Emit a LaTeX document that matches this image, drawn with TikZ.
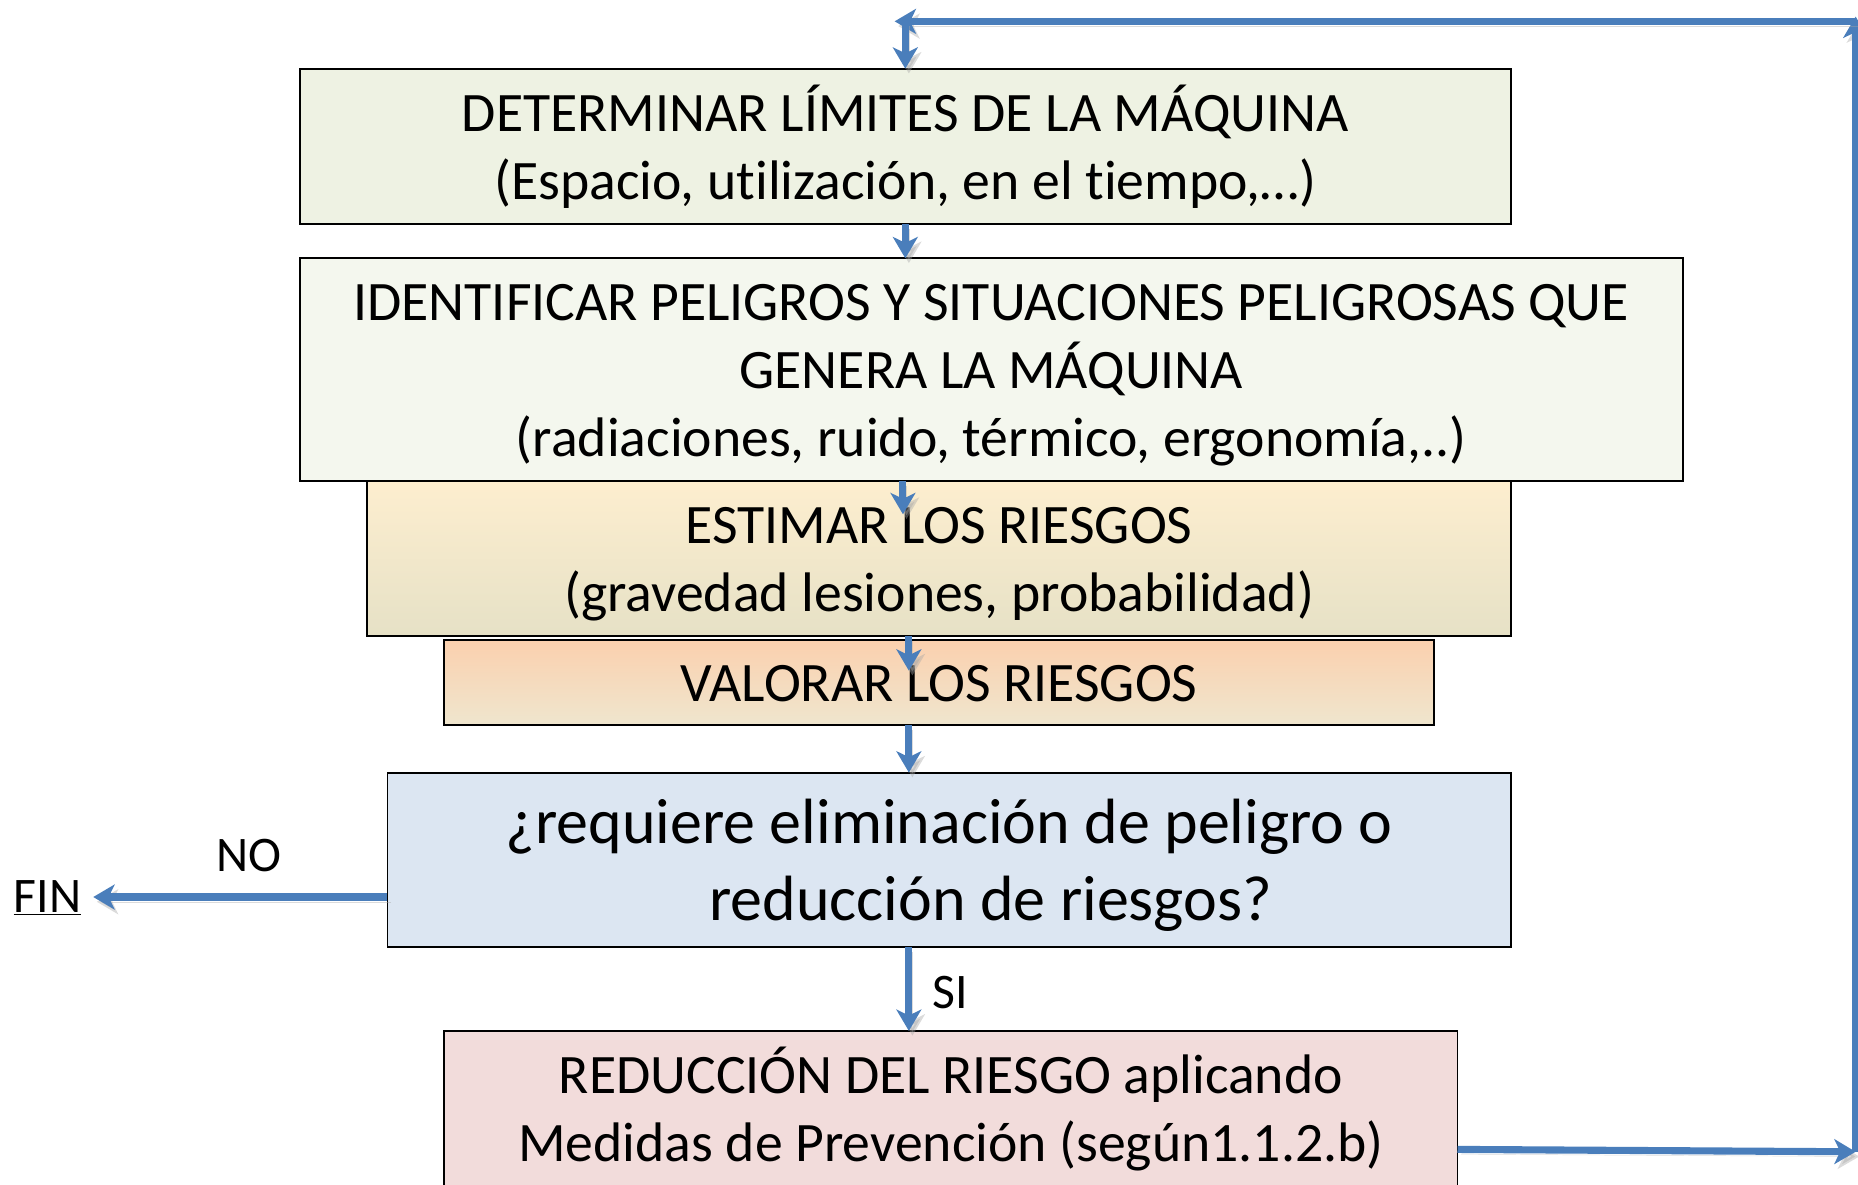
\documentclass[tikz,border=0pt]{standalone}
\usepackage{fontspec}
\setmainfont{Carlito}[Ligatures=NoCommon]
\usetikzlibrary{arrows.meta,calc}
\definecolor{arrowblue}{HTML}{4A7EBB}
\definecolor{fillA}{HTML}{EEF2E3}
\definecolor{fillB}{HTML}{F4F7EE}
\definecolor{fillCt}{HTML}{FDEECF}
\definecolor{fillCm}{HTML}{F8EBD0}
\definecolor{fillCb}{HTML}{E6E1C6}
\definecolor{fillDt}{HTML}{FBD0AE}
\definecolor{fillDm}{HTML}{F6DCC2}
\definecolor{fillDb}{HTML}{EFE6CE}
\definecolor{fillE}{HTML}{DCE6F2}
\definecolor{fillF}{HTML}{F2DCDB}
\newcommand{\topstrut}{\rule{0pt}{46pt}}
\newcommand{\botstrut}{\rule[-14pt]{0pt}{14pt}}
\newcommand{\bigtopstrut}{\rule{0pt}{53.5pt}}
\newcommand{\bigbotstrut}{\rule[-15.5pt]{0pt}{15.5pt}}
\begin{document}
\begin{tikzpicture}[x=1pt,y=-1pt,
  box/.style={draw=black, line width=1.6pt, rectangle, inner sep=0pt, outer sep=0pt, align=center, font=\fontsize{47}{57.5}\selectfont},
  flow/.style={draw=arrowblue, line width=6pt, -{Stealth[length=18pt,width=21pt,inset=5pt]},
    preaction={draw=black!35, opacity=.4, transform canvas={shift={(3pt,-4pt)}}}},
  lbl/.style={font=\fontsize{42}{50}\selectfont, inner sep=0pt}]
\clip (0,0) rectangle (1568,999.2);
% boxes
\node[box, fill=fillA, minimum width=1022pt, minimum height=131pt] (b1) at (764,123.5)
  {\topstrut DETERMINAR LÍMITES DE LA MÁQUINA\\(Espacio, utilización, en el tiempo,…)\botstrut};
\node[box, fill=fillB, minimum width=1167pt, minimum height=188pt] (b2) at (836.5,312)
  {\topstrut IDENTIFICAR PELIGROS Y SITUACIONES PELIGROSAS QUE\\GENERA LA MÁQUINA\\(radiaciones, ruido, térmico, ergonomía,..)\botstrut};
\node[box, top color=fillCt, middle color=fillCm, bottom color=fillCb, minimum width=965pt, minimum height=131pt] (b3) at (792.5,471.5)
  {\topstrut ESTIMAR LOS RIESGOS\\(gravedad lesiones, probabilidad)\botstrut};
\node[box, top color=fillDt, middle color=fillDm, bottom color=fillDb, minimum width=835pt, minimum height=72pt] (b4) at (792.5,576)
  {\topstrut VALORAR LOS RIESGOS\botstrut};
\node[box, fill=fillE, minimum width=948pt, minimum height=147pt, font=\fontsize{54}{65}\selectfont] (b5) at (801,725.5)
  {\bigtopstrut ¿requiere eliminación de peligro o\\\hspace*{70pt}reducción de riesgos?\bigbotstrut};
\node[box, fill=fillF, minimum width=855pt, minimum height=131pt] (b6) at (802.5,935.5)
  {\topstrut REDUCCIÓN DEL RIESGO aplicando\\Medidas de Prevención (según1.1.2.b)\botstrut};
% labels
\node[lbl] (fin) at (40,758) {\underline{FIN}};
\node[lbl] (no) at (210,722) {NO};
% helper coordinates
\coordinate (x23) at (762,434);
\coordinate (x34) at (767,566);
\coordinate (rb) at (1566,972);
\coordinate (rt) at (1566,14);
\coordinate (lt) at (755,18);
\coordinate (lv) at (764,18);
\coordinate (noy) at (0,757);
\coordinate (fintip) at ($(fin.east)+(10,0)$);
% connectors
\draw[flow] (b1.south) -- (b1.south |- b2.north);
\draw[flow] (x23 |- b2.south) -- (x23);
\draw[flow] (x34 |- b3.south) -- (x34);
\draw[flow] (x34 |- b4.south) -- (x34 |- b5.north);
\draw[flow] (x34 |- b5.south) -- node[lbl, right=17pt, yshift=-3pt] (si) {SI} (x34 |- b6.north);
\draw[flow] (b5.west |- noy) -- (fintip |- noy);
\draw[flow] (b6.east |- 0,970) -- (rb);
\draw[flow] (1566,972) -- (rt);
\draw[flow] (1566,18) -- (lt);
\draw[flow] (lv) -- (lv |- b1.north);
\end{tikzpicture}
\end{document}
